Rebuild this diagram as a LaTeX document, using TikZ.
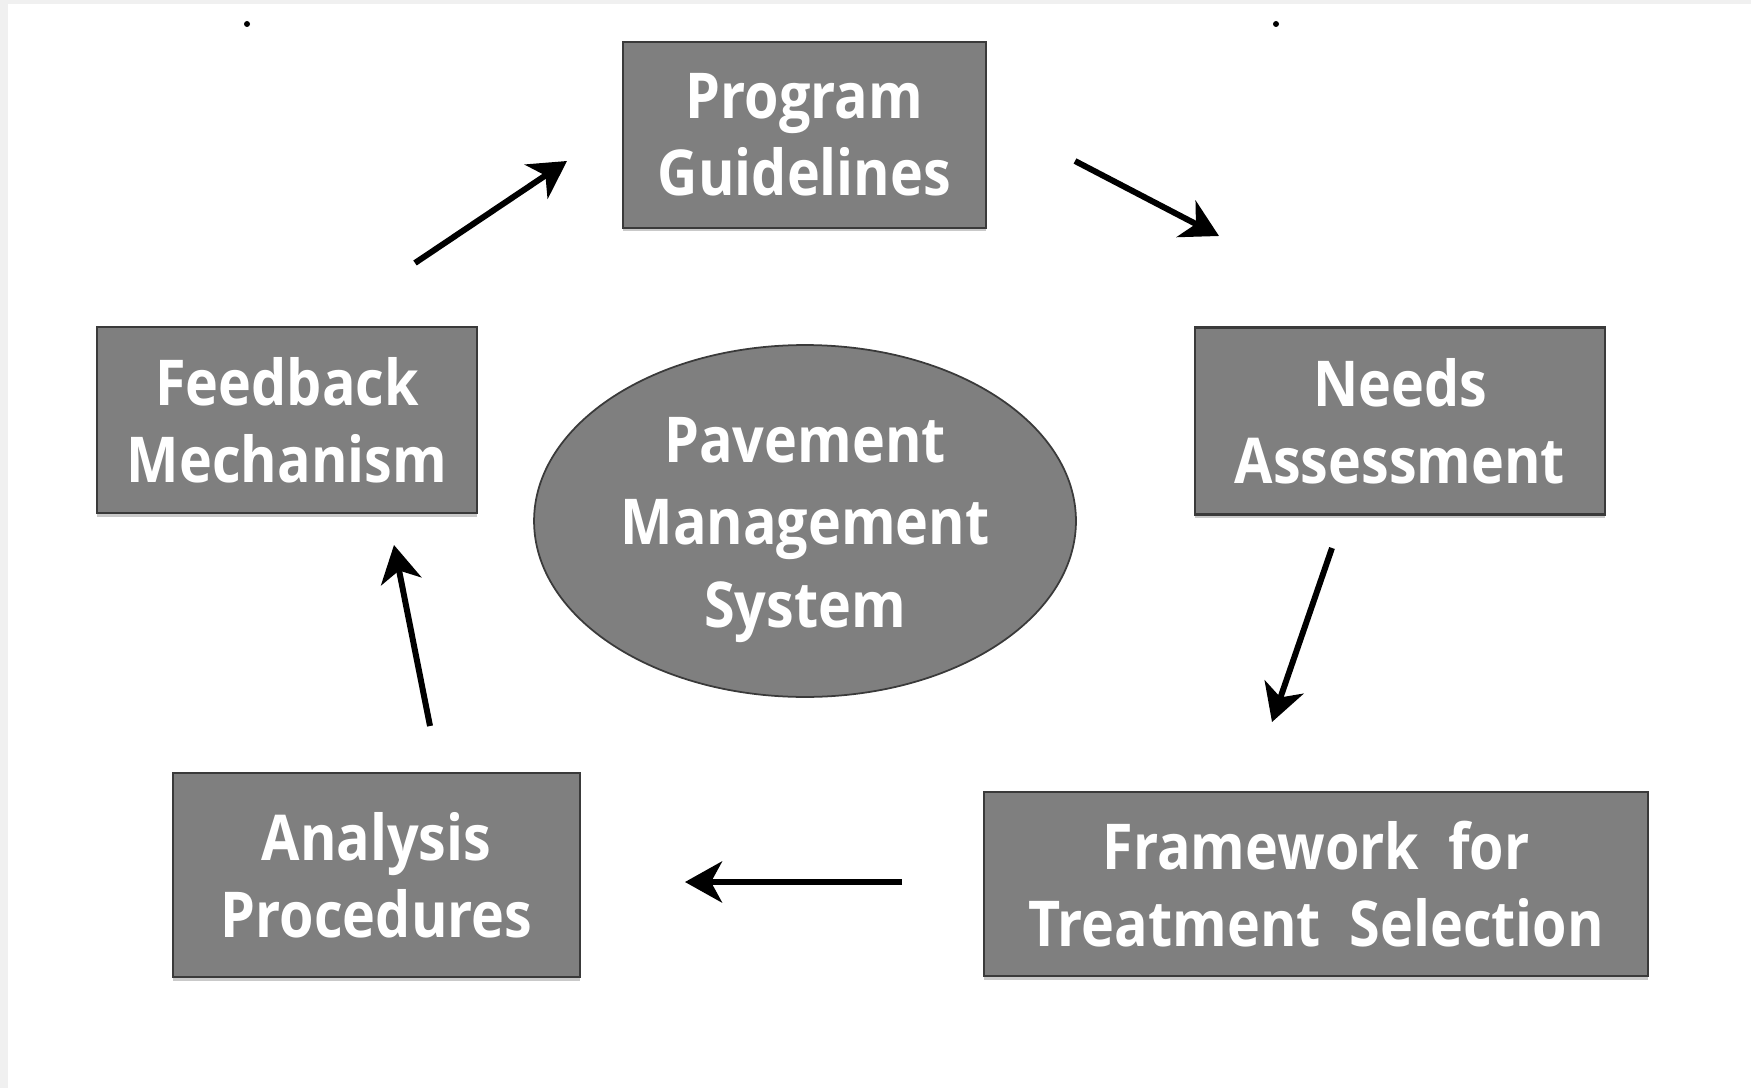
\documentclass[tikz,border=0pt]{standalone}
\usepackage{fontspec}
\setmainfont{Open Sans}[FakeStretch=0.88, WordSpace=2]
\usetikzlibrary{arrows.meta,shapes.geometric,shadows}

\definecolor{boxfill}{HTML}{7F7F7F}
\definecolor{boxedge}{HTML}{3A3A3A}
\definecolor{framegray}{HTML}{F0F0F0}

\tikzset{
  stage/.style={draw=boxedge, line width=1.6pt, fill=boxfill, text=white,
    align=center, inner sep=0pt, rectangle,
    font=\fontsize{36}{44}\selectfont\bfseries,
    drop shadow={shadow xshift=0pt, shadow yshift=-2pt, fill=black!35, opacity=0.6}},
  hub/.style={draw=boxedge, line width=1pt, fill=boxfill, inner sep=0pt, ellipse},
  hubtext/.style={text=white, align=center, inner sep=0pt,
    font=\fontsize{36}{47}\selectfont\bfseries},
  flow/.style={line width=3.4pt, -{Stealth[length=0.74cm, width=0.82cm, inset=0.22cm]}}
}

\begin{document}
\begin{tikzpicture}[x=0.02cm, y=-0.02cm]
  % page and its light frame
  \fill[white] (0,0) rectangle (1751,1088);
  \useasboundingbox (0,0) rectangle (1751,1088);
  \fill[framegray] (0,0) rectangle (1751,4);
  \fill[framegray] (0,0) rectangle (8,1088);
  \fill[black] (247,24) circle[radius=3];
  \fill[black] (1276,24) circle[radius=3];

  % stages of the cycle
  \node[stage, minimum width=7.26cm, minimum height=3.72cm] (prog) at (804.5,135) {Program\\Guidelines};
  \node[stage, minimum width=8.2cm, minimum height=3.74cm] (needs) at (1400,421) {Needs\\Assessment};
  \node[stage, minimum width=13.28cm, minimum height=3.68cm] (frame) at (1316,884) {Framework for\\Treatment Selection};
  \node[stage, minimum width=8.14cm, minimum height=4.08cm] (anal) at (376.5,875) {Analysis\\Procedures};
  \node[stage, minimum width=7.6cm, minimum height=3.72cm] (feed) at (287,420) {Feedback\\Mechanism};

  % central system
  \node[hub, minimum width=10.84cm, minimum height=7.04cm] (pms) at (805,521) {};
  \node[hubtext] (pmstext) at ([yshift=-0.18cm]pms.center) {Pavement\\Management\\System};

  % arrow ends
  \coordinate (a1s) at (415,263);  \coordinate (a1e) at (567,161);
  \coordinate (a2s) at (1075,161); \coordinate (a2e) at (1219,236);
  \coordinate (a3s) at (1332,548); \coordinate (a3e) at (1272,722);
  \coordinate (a4s) at (902,882);  \coordinate (a4e) at (685,882);
  \coordinate (a5s) at (430,726);  \coordinate (a5e) at (394,545);

  \draw[flow] (a1s) -- (a1e);
  \draw[flow] (a2s) -- (a2e);
  \draw[flow] (a3s) -- (a3e);
  \draw[flow] (a4s) -- (a4e);
  \draw[flow] (a5s) -- (a5e);
\end{tikzpicture}
\end{document}
